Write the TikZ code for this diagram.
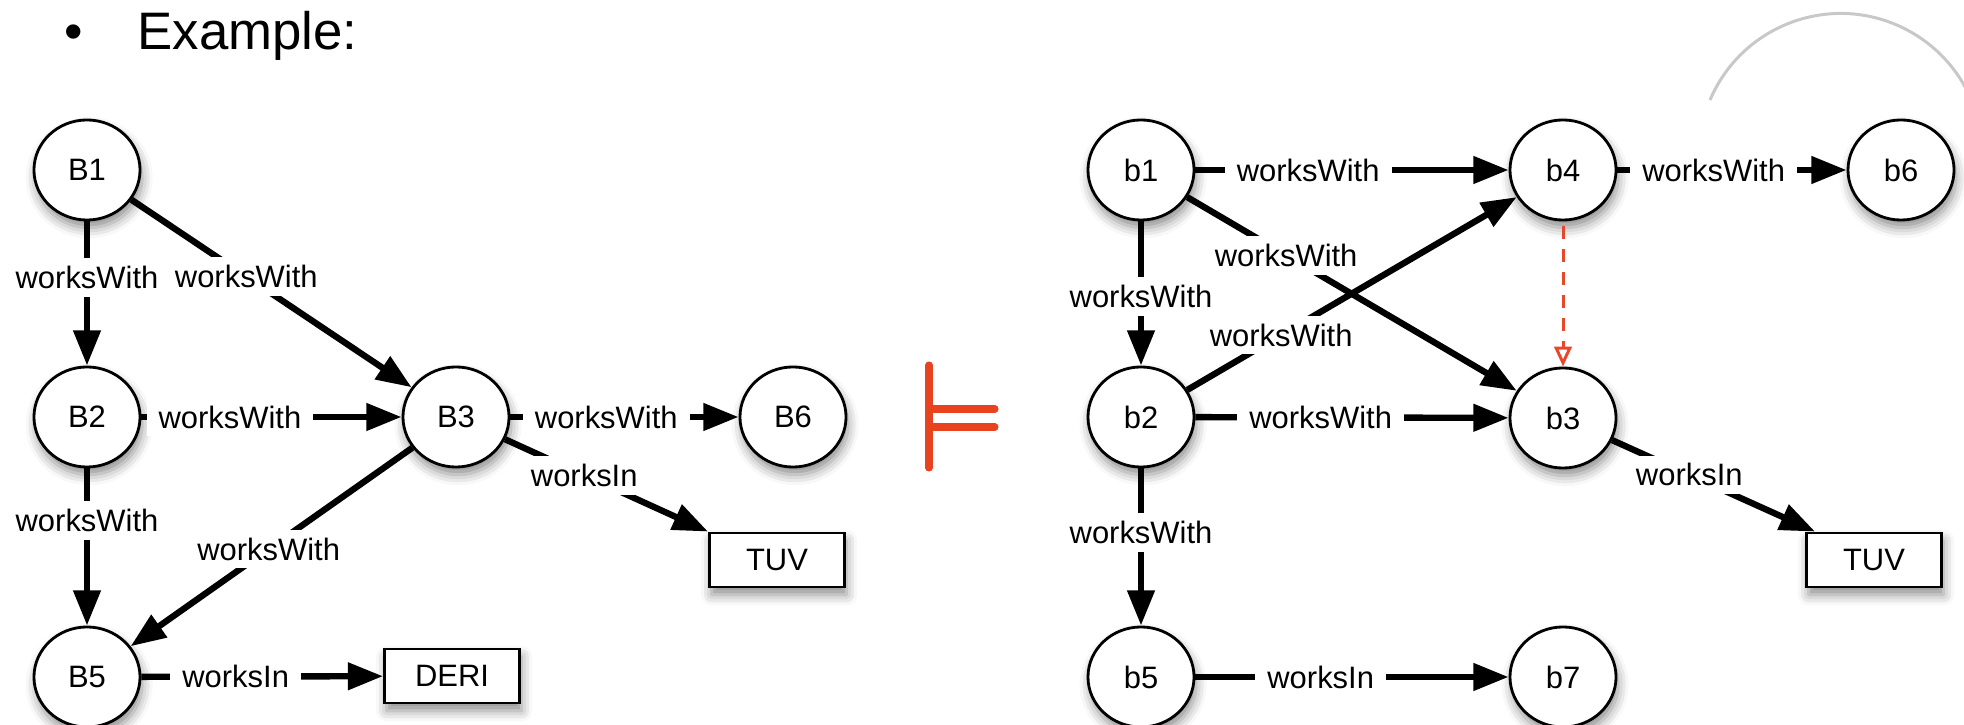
\documentclass[tikz,border=0pt]{standalone}
\usepackage{fontspec}
\setmainfont{Liberation Sans}
\usetikzlibrary{arrows.meta,shapes.geometric,shadows.blur}
\definecolor{entail}{RGB}{232,66,30}
\definecolor{refine}{RGB}{232,72,42}
\definecolor{arcgray}{RGB}{200,200,200}

\begin{document}
\begin{tikzpicture}[x=0.01cm,y=-0.01cm,
  softshadow/.style={blur shadow={shadow xshift=0.6pt, shadow yshift=-2.2pt,
      shadow blur radius=3pt, shadow opacity=45}},
  ent/.style={ellipse, draw, line width=0.8pt, fill=white,
      minimum width=1.06cm, minimum height=1cm, inner sep=0pt,
      font=\fontsize{8.8}{10}\selectfont, softshadow},
  lit/.style={rectangle, draw, line width=0.8pt, fill=white,
      minimum width=1.35cm, minimum height=0.54cm, inner sep=0pt,
      font=\fontsize{8.8}{10}\selectfont, softshadow},
  rel/.style={line width=1.8pt, -{Triangle[length=10pt,width=7.5pt]}},
  lbl/.style={fill=white, inner xsep=0.12cm, inner ysep=0.08cm,
      font=\fontsize{8.8}{10}\selectfont},
  refines/.style={draw=refine, line width=0.85pt,
      dash pattern=on 3.7pt off 2.8pt, shorten <=0.05cm,
      -{Triangle[open,length=5.7pt,width=5pt,fill=white]}}
]
\useasboundingbox (0,0) rectangle (1964,725);

% heading
\node[anchor=base, inner sep=0pt, font=\fontsize{15}{18}\selectfont] (bullet) at (74,50) {•};
\node[anchor=base west, inner sep=0pt, font=\fontsize{15}{18}\selectfont] (title) at (137,50) {Example:};

% left graph
\node[ent] (B1) at (87,170) {B1};
\node[ent] (B2) at (87,417) {B2};
\node[ent] (B5) at (87,677) {B5};
\node[ent] (B3) at (456,417) {B3};
\node[ent] (B6) at (793,417) {B6};
\node[lit] (TUVl) at (777,560) {TUV};
\node[lit] (DERI) at (452,676) {DERI};

\draw[rel] (B1) -- node[lbl,pos=0.39] (lw1) {worksWith} (B2);
\draw[rel] (B1) -- node[lbl,pos=0.41] (lw2) {worksWith} (B3);
\draw[rel] (B2) -- node[lbl,pos=0.34] (lw3) {worksWith} (B3);
\draw[rel] (B2) -- node[lbl,pos=0.33] (lw4) {worksWith} (B5);
\draw[rel] (B3) -- node[lbl,pos=0.51] (lw5) {worksWith} (B5);
\draw[rel] (B3) -- node[lbl,pos=0.42] (lw6) {worksWith} (B6);
\draw[rel] (B3) -- node[lbl,pos=0.39] (lw7) {worksIn} (TUVl.north west);
\draw[rel] (B5) -- node[lbl,pos=0.39] (lw8) {worksIn} (DERI);

% entailment sign
\draw[entail, line width=2pt, line cap=round]
  (929,365) -- (929,468)
  (929,409) -- (995,409)
  (929,427) -- (995,427);

% right graph
\node[ent] (b1) at (1141,170) {b1};
\node[ent] (b4) at (1563,170) {b4};
\node[ent] (b6) at (1901,170) {b6};
\node[ent] (b2) at (1141,417) {b2};
\node[ent] (b3) at (1563,418) {b3};
\node[ent] (b5) at (1141,677) {b5};
\node[ent] (b7) at (1563,677) {b7};
\node[lit] (TUVr) at (1874,560) {TUV};
\coordinate (TUVrin) at ([xshift=0.1cm]TUVr.north west);

\draw[rel] (b1) -- node[lbl,pos=0.52] (rw1) {worksWith} (b2);
\draw[rel] (b1) -- node[lbl,pos=0.36] (rw2) {worksWith} (b4);
\draw[rel] (b1) -- node[lbl,pos=0.30] (rw3) {worksWith} (b3);
\draw[rel] (b2) -- node[lbl,pos=0.285] (rw4) {worksWith} (b4);
\draw[rel] (b2) -- node[lbl,pos=0.40] (rw5) {worksWith} (b3);
\draw[rel] (b2) -- node[lbl,pos=0.41] (rw6) {worksWith} (b5);
\draw[rel] (b4) -- node[lbl,pos=0.42] (rw7) {worksWith} (b6);
\draw[rel] (b3) -- node[lbl,pos=0.38] (rw8) {worksIn} (TUVrin);
\draw[rel] (b5) -- node[lbl,pos=0.40] (rw9) {worksIn} (b7);
\draw[refines] (b4) -- (b3);

% partial circle at the top right
\draw[arcgray, line width=0.85pt] (1710,100) arc[start angle=203, end angle=335, radius=142];
\end{tikzpicture}
\end{document}
